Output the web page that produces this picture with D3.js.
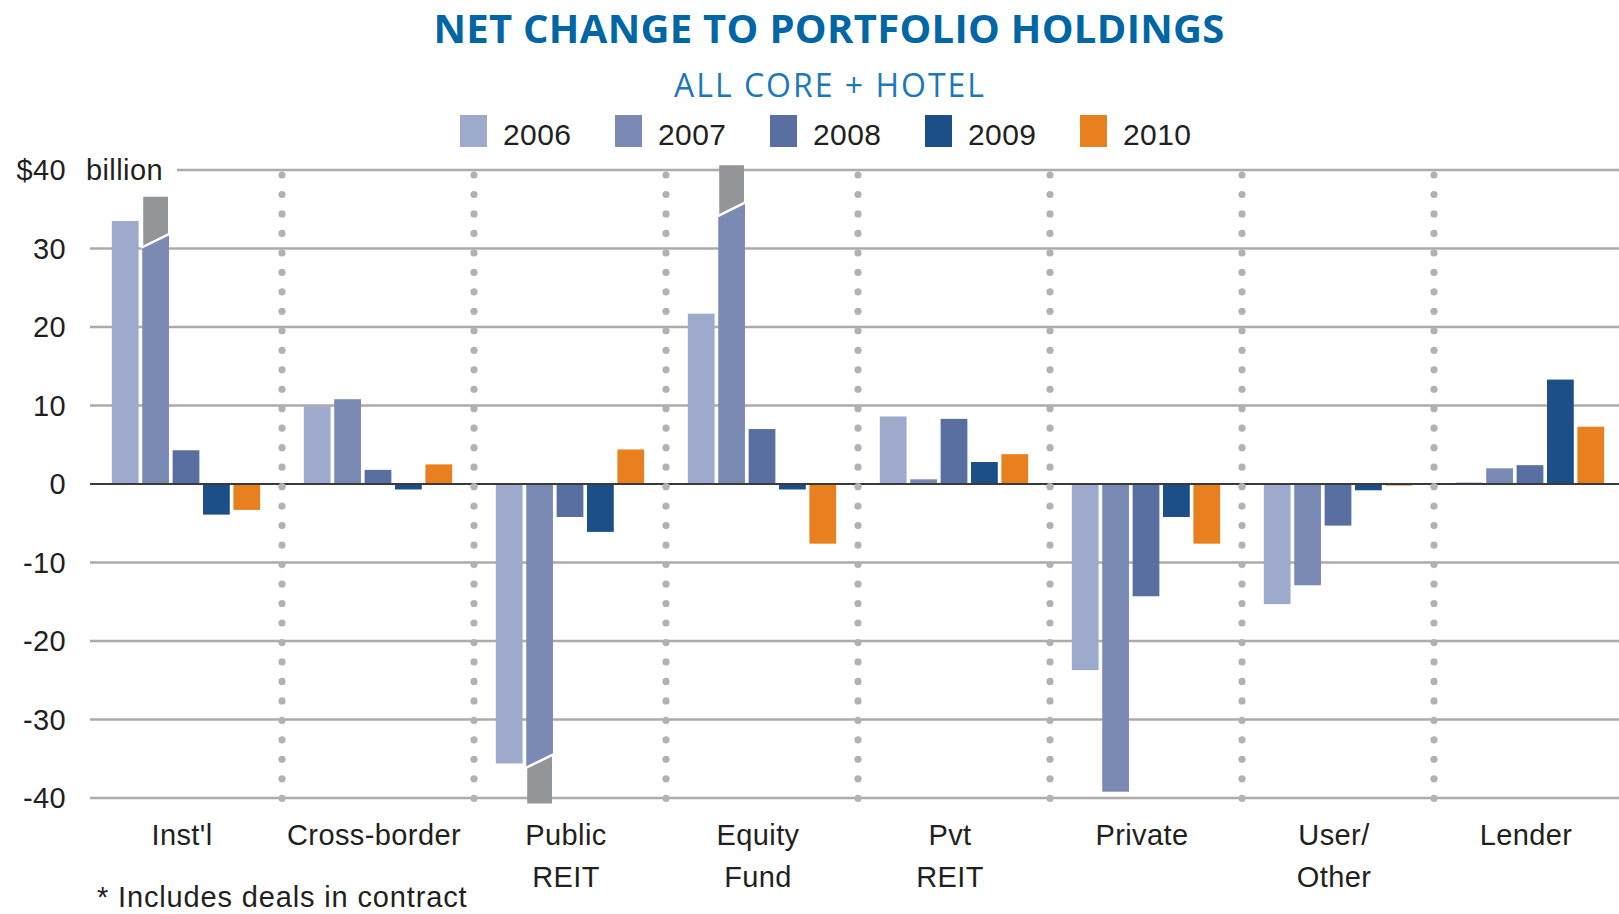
<!DOCTYPE html>
<html>
<head>
<meta charset="utf-8">
<script src="https://cdn.jsdelivr.net/npm/d3@7"></script>
<style>
  body { margin: 0; background: #fff; }
  .lbl { font-family: "Liberation Sans", Arial, sans-serif; font-size: 29px; letter-spacing: 0.4px; fill: #231f20; }
  .ttl { font-family: "Open Sans", "Noto Sans", sans-serif; }
</style>
</head>
<body>
<svg id="chart" width="1619" height="914"></svg>
<script>
// categories and values ($ billion)
const categories = ["Inst'l", "Cross-border", "Public\nREIT", "Equity\nFund", "Pvt\nREIT", "Private", "User/\nOther", "Lender"];
const years = ["2006", "2007", "2008", "2009", "2010"];
const colors = ["#9eaacb", "#7a8ab4", "#5a6fa1", "#1c4e88", "#e8801f"];

const values2006 = [33.5, 9.9, -35.6, 21.7, 8.6, -23.7, -15.3, 0.2];
const values2007 = [31.0, 10.8, -35.3, 35.0, 0.6, -39.2, -12.9, 2.0];
const values2008 = [4.3, 1.8, -4.2, 7.0, 8.3, -14.3, -5.3, 2.4];
const values2009 = [-3.9, -0.7, -6.1, -0.7, 2.8, -4.2, -0.8, 13.3];
const values2010 = [-3.3, 2.5, 4.4, -7.6, 3.8, -7.6, -0.2, 7.3];
// 2007 total including deals in contract (gray cap)
const contract2007 = [36.6, null, -40.7, 40.6, null, null, null, null];

const yTicks = [40, 30, 20, 10, 0, -10, -20, -30, -40];

const series = [values2006, values2007, values2008, values2009, values2010];

const svg = d3.select("#chart");

const y = d3.scaleLinear().domain([-40, 40]).range([798, 170]);
const x0 = d3.scaleBand().domain(categories).range([90, 90 + 192 * categories.length]);
const x1 = d3.scaleBand().domain(years).range([20, 172]).paddingInner(0.12).paddingOuter(0.06);

// title
svg.append("text").attr("class", "ttl")
    .attr("x", 829).attr("y", 43)
    .attr("text-anchor", "middle")
    .attr("font-size", 40).attr("font-weight", 700)
    .attr("letter-spacing", 0.3)
    .attr("fill", "#0066a6")
    .text("NET CHANGE TO PORTFOLIO HOLDINGS");

svg.append("text").attr("class", "ttl")
    .attr("x", 830).attr("y", 97)
    .attr("text-anchor", "middle")
    .attr("font-size", 32).attr("font-weight", 500)
    .attr("letter-spacing", 2)
    .attr("fill", "#1c78b8")
    .text("ALL CORE + HOTEL");

// legend
const legend = svg.append("g");
years.forEach((yr, i) => {
    const lx = 460 + i * 155;
    legend.append("rect")
        .attr("x", lx).attr("y", 115)
        .attr("width", 27).attr("height", 32)
        .attr("fill", colors[i]);
    legend.append("text").attr("class", "lbl")
        .attr("x", lx + 43).attr("y", 145)
        .style("font-size", "30px")
        .text(yr);
});

// grid lines
svg.append("g").selectAll("line")
    .data(yTicks.filter(d => d !== 0))
    .enter().append("line")
    .attr("x1", d => d === 40 ? 177 : 90)
    .attr("x2", 1619)
    .attr("y1", d => y(d)).attr("y2", d => y(d))
    .attr("stroke", "#ababab")
    .attr("stroke-width", 2.5);

// y tick labels
svg.append("g").selectAll("text")
    .data(yTicks)
    .enter().append("text")
    .attr("class", "lbl")
    .attr("x", 66)
    .attr("y", d => y(d))
    .attr("dy", "0.36em")
    .attr("text-anchor", "end")
    .text(d => d === 40 ? "$40" : d);

svg.append("text").attr("class", "lbl")
    .attr("x", 86).attr("y", y(40)).attr("dy", "0.36em")
    .text("billion");

// bars
const groups = svg.append("g").selectAll("g")
    .data(categories)
    .enter().append("g")
    .attr("transform", d => `translate(${x0(d)},0)`);

const slant = 6.6;

groups.each(function(cat, ci) {
    const g = d3.select(this);
    years.forEach((yr, yi) => {
        const v = series[yi][ci];
        const bx = x1(yr), bw = x1.bandwidth();
        const extra = yi === 1 ? contract2007[ci] : null;
        if (extra === null) {
            g.append("rect")
                .attr("x", bx)
                .attr("y", Math.min(y(v), y(0)))
                .attr("width", bw)
                .attr("height", Math.max(1, Math.abs(y(v) - y(0))))
                .attr("fill", colors[yi]);
        } else {
            const yl = y(v) + slant, yr2 = y(v) - slant;
            g.append("polygon")
                .attr("points", [[bx, y(0)], [bx, yl], [bx + bw, yr2], [bx + bw, y(0)]].join(" "))
                .attr("fill", colors[yi]);
            g.append("polygon")
                .attr("points", [[bx + 1, yl], [bx + 1, y(extra)], [bx + bw - 1, y(extra)], [bx + bw - 1, yr2]].join(" "))
                .attr("fill", "#949598");
            g.append("line")
                .attr("x1", bx - 1).attr("y1", yl + 0.5)
                .attr("x2", bx + bw + 1).attr("y2", yr2 - 0.5)
                .attr("stroke", "#fff").attr("stroke-width", 2.5);
        }
    });
});

// zero line
svg.append("line")
    .attr("x1", 90).attr("x2", 1619)
    .attr("y1", y(0)).attr("y2", y(0))
    .attr("stroke", "#3a3a3a").attr("stroke-width", 2);

// dotted dividers between groups
const dotYs = d3.range(33).map(i => 175 + i * (623.3 / 32));
categories.slice(1).forEach(cat => {
    svg.append("g").selectAll("circle")
        .data(dotYs)
        .enter().append("circle")
        .attr("cx", x0(cat))
        .attr("cy", d => d)
        .attr("r", 3.6)
        .attr("fill", "#b1b2b5");
});

// category labels
const labels = svg.append("g").selectAll("text")
    .data(categories)
    .enter().append("text")
    .attr("class", "lbl")
    .attr("text-anchor", "middle")
    .attr("x", d => x0(d) + x0.bandwidth() / 2 - 4)
    .attr("y", 845);

labels.selectAll("tspan")
    .data(d => d.split("\n"))
    .enter().append("tspan")
    .attr("x", function() { return this.parentNode.getAttribute("x"); })
    .attr("dy", (d, i) => i === 0 ? 0 : 42)
    .text(d => d);

// footnote
svg.append("text").attr("class", "lbl")
    .attr("x", 97).attr("y", 907)
    .style("letter-spacing", "0.85px")
    .text("* Includes deals in contract");
</script>
</body>
</html>
